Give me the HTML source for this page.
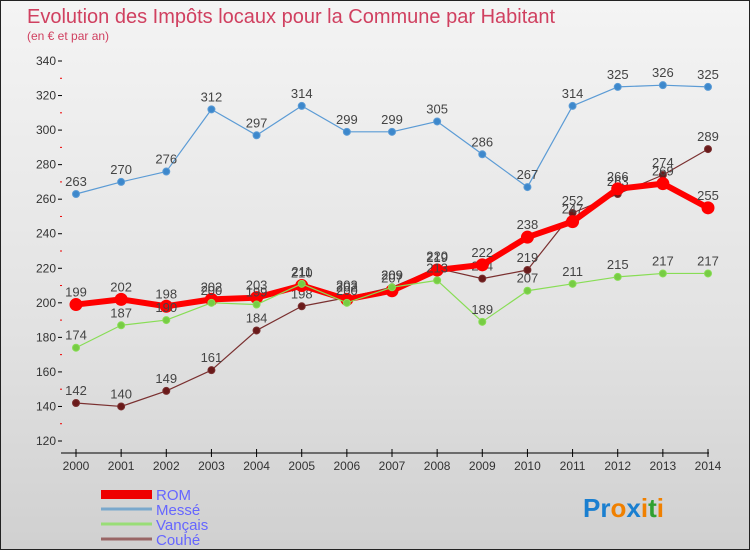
<!DOCTYPE html>
<html><head><meta charset="utf-8"><style>
body{margin:0}
#c{width:748px;height:548px;border:1px solid #222;background:linear-gradient(#f4f4f4,#e2e2e2 60%,#d0d0d0);position:relative;font-family:"Liberation Sans",sans-serif;overflow:hidden}
svg text{font-family:"Liberation Sans",sans-serif}
</style></head><body>
<div id="c">
<svg id="s" width="748" height="548">
<text x="26" y="22" font-size="20" fill="#d04060">Evolution des Impôts locaux pour la Commune par Habitant</text>
<text x="26" y="39" font-size="12" fill="#d04060">(en € et par an)</text>
<g id="g"></g>
<g>
<rect x="100" y="489" width="51" height="9" fill="#e00"/>
<text x="155" y="499" font-size="15" fill="#66f">ROM</text>
<line x1="100" y1="508" x2="151" y2="508" stroke="#7aa8cc" stroke-width="3"/>
<text x="155" y="514" font-size="15" fill="#66f">Messé</text>
<line x1="100" y1="523" x2="151" y2="523" stroke="#99dd77" stroke-width="3"/>
<text x="155" y="529" font-size="15" fill="#66f">Vançais</text>
<line x1="100" y1="538" x2="151" y2="538" stroke="#996666" stroke-width="3"/>
<text x="155" y="544" font-size="15" fill="#66f">Couhé</text>
</g>
<text x="582" y="516" font-size="26" font-weight="bold"><tspan fill="#1a7fd0">Pr</tspan><tspan fill="#f08000">o</tspan><tspan fill="#1a7fd0">x</tspan><tspan fill="#f08000">i</tspan><tspan fill="#30a030">t</tspan><tspan fill="#f08000">i</tspan></text>
</svg></div>
<script>
const years=[2000,2001,2002,2003,2004,2005,2006,2007,2008,2009,2010,2011,2012,2013,2014];
const yTicks=[120,140,160,180,200,220,240,260,280,300,320,340];
const messe=[263,270,276,312,297,314,299,299,305,286,267,314,325,326,325];
const vancais=[174,187,190,200,199,211,200,209,213,189,207,211,215,217,217];
const couhe=[142,140,149,161,184,198,203,209,220,214,219,252,263,274,289];
const rom=[199,202,198,202,203,210,202,207,219,222,238,247,266,269,255];
const NS="http://www.w3.org/2000/svg";
const g=document.getElementById('g');
const X=i=>75+i*(632/14);
const Y=v=>440-(v-120)*(380/220);
function mk(t,a,p){const e=document.createElementNS(NS,t);for(const k in a)e.setAttribute(k,a[k]);(p||g).appendChild(e);return e;}
let ax=mk('line',{x1:60,y1:452,x2:708,y2:452,stroke:'#000','stroke-width':1});


years.forEach((y,i)=>{mk('line',{x1:X(i),y1:448,x2:X(i),y2:456,stroke:'#000'});
 const t=mk('text',{x:X(i),y:469,'font-size':12,'text-anchor':'middle',fill:'#333'});t.textContent=y;
 
 });
yTicks.forEach(v=>{const t=mk('text',{x:55,y:Y(v)+4,'font-size':12,'text-anchor':'end',fill:'#333'});t.textContent=v;
 
 
 mk('line',{x1:57,y1:Y(v),x2:61,y2:Y(v),stroke:'#000'});
 if(v<340)mk('line',{x1:59,y1:Y(v+10),x2:61,y2:Y(v+10),stroke:'#e00'});});
function series(d,col,w,r,fill,name){
 const p=mk('polyline',{points:d.map((v,i)=>X(i)+','+Y(v)).join(' '),fill:'none',stroke:col,'stroke-width':w,'stroke-linejoin':'round'});
 
 
 d.forEach((v,i)=>{const c=mk('circle',{cx:X(i),cy:Y(v),r:r,fill:fill,stroke:col,'stroke-width':1});
  
  
  const t=mk('text',{x:X(i),y:Y(v)-8,'font-size':13,'text-anchor':'middle',fill:'#444'});t.textContent=v;
  
  });
}
series(messe,'#5b9bd5',1.2,3.5,'#3d88cc','messe');
series(couhe,'#7a3030',1.2,3.5,'#6a1a1a','couhe');
series(rom,'#f00',6,6,'#f00','rom');
series(vancais,'#88dd55',1.2,3.5,'#77cc44','vancais');
</script>
</body></html>
